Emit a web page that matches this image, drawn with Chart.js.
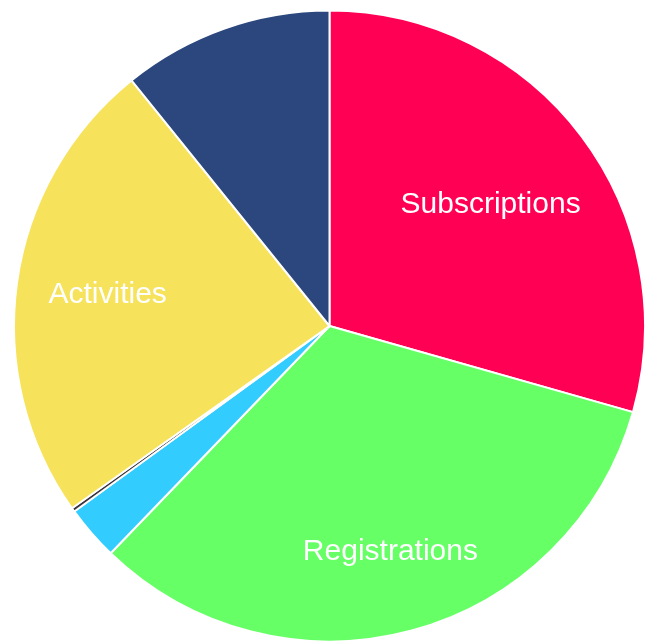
<!DOCTYPE html>
<html>
<head>
<meta charset="utf-8">
<script src="https://cdn.jsdelivr.net/npm/chart.js@4/dist/chart.umd.min.js"></script>
<style>
  html, body { margin: 0; padding: 0; background: #fff; }
  #wrap { width: 646px; height: 643px; position: relative; }
</style>
</head>
<body>
<div id="wrap"><canvas id="pieChart"></canvas></div>
<script>
const categories = ['Subscriptions', 'Registrations', 'Referrals', 'Other', 'Activities', 'Memberships'];
const values = [294, 328, 28, 2, 240, 108];
const colors = ['#FF0055', '#66FF66', '#33CCFF', '#3A3440', '#F6E25B', '#2B477D'];

// only big slices get a name drawn on them
const sliceLabels = {
    id: 'sliceLabels',
    afterDatasetsDraw(chart, args, opts) {
        const ctx = chart.ctx;
        const meta = chart.getDatasetMeta(0);
        const data = chart.data.datasets[0].data;
        const total = data.reduce((a, b) => a + b, 0);
        ctx.save();
        ctx.font = opts.font;
        ctx.fillStyle = opts.color;
        ctx.textAlign = 'center';
        ctx.textBaseline = 'middle';
        meta.data.forEach((arc, i) => {
            if (data[i] / total < opts.minShare) return;
            const mid = (arc.startAngle + arc.endAngle) / 2;
            const r = arc.outerRadius * (opts.radius[i] || 0.7);
            ctx.fillText(chart.data.labels[i], arc.x + Math.cos(mid) * r, arc.y + Math.sin(mid) * r);
        });
        ctx.restore();
    }
};

new Chart(document.getElementById('pieChart'), {
    type: 'pie',
    data: {
        labels: categories,
        datasets: [{
            data: values,
            backgroundColor: colors,
            borderColor: '#fff',
            borderWidth: 2
        }]
    },
    options: {
        responsive: true,
        maintainAspectRatio: false,
        animation: false,
        layout: { padding: { top: 9, bottom: 0, left: 13, right: 0 } },
        plugins: {
            legend: { display: false },
            tooltip: { enabled: false },
            sliceLabels: {
                font: '30px "Liberation Sans", Arial, sans-serif',
                color: '#fff',
                minShare: 0.15,
                radius: [0.64, 0.74, 0.7, 0.7, 0.71, 0.7]
            }
        }
    },
    plugins: [sliceLabels]
});
</script>
</body>
</html>
